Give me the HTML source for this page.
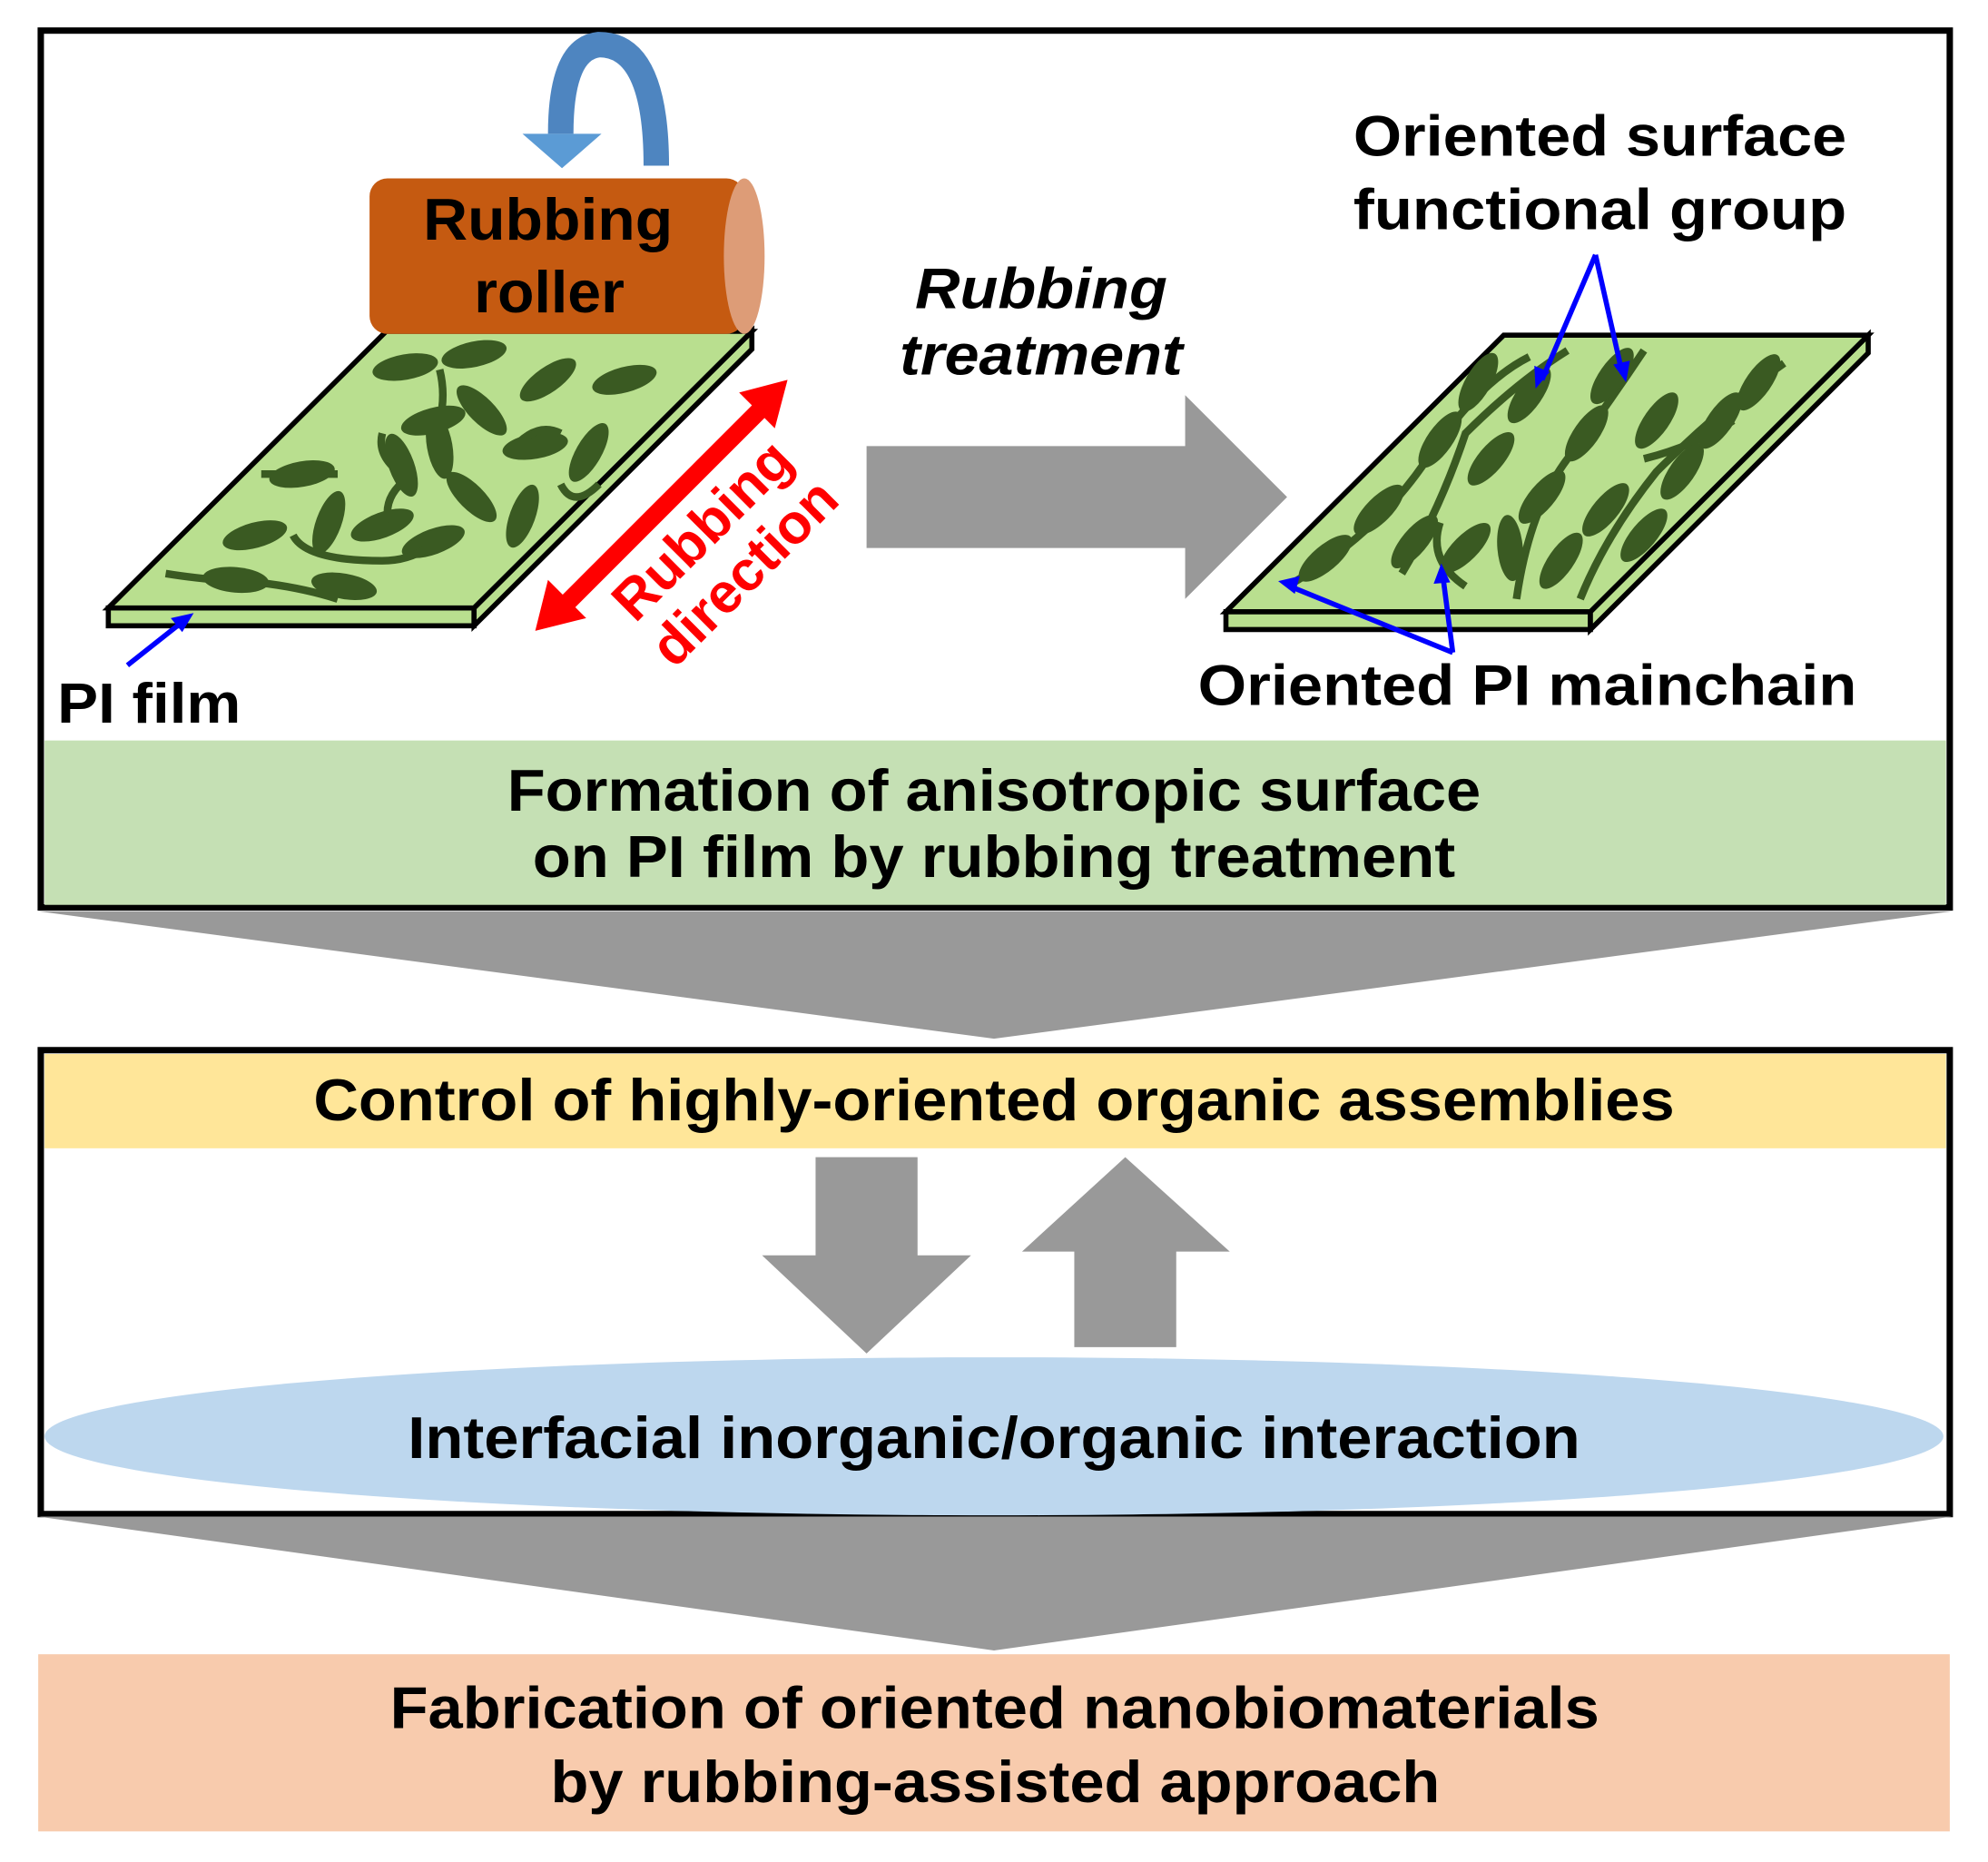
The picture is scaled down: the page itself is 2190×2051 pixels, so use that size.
<!DOCTYPE html>
<html><head><style>html,body{margin:0;padding:0;background:#fff}svg{display:block}
text{font-family:"Liberation Sans",Arial,sans-serif;font-weight:bold}</style></head>
<body>
<svg width="2190" height="2051" viewBox="0 0 1560 1461" preserveAspectRatio="none" xmlns="http://www.w3.org/2000/svg">
<defs>
<g id="m"><ellipse cx="0" cy="0" rx="26" ry="10" fill="#3a5a22"/></g>
</defs>
<!-- top box -->
<rect x="32" y="24" width="1498" height="688" fill="#fff" stroke="#000" stroke-width="5"/>
<rect x="35" y="581" width="1492" height="129" fill="#c5e0b4"/>
<text x="398" y="636" font-size="46" textLength="764" lengthAdjust="spacingAndGlyphs">Formation of anisotropic surface</text>
<text x="418" y="688" font-size="46" textLength="724" lengthAdjust="spacingAndGlyphs">on PI film by rubbing treatment</text>
<polygon points="30,715 1532,715 780,815" fill="#999"/>
<!-- middle box -->
<rect x="32" y="824" width="1498" height="364" fill="#fff" stroke="#000" stroke-width="5"/>
<rect x="35" y="827" width="1492" height="74" fill="#ffe699"/>
<text x="246" y="879" font-size="46" textLength="1068" lengthAdjust="spacingAndGlyphs">Control of highly-oriented organic assemblies</text>
<ellipse cx="780" cy="1127" rx="745" ry="62" fill="#bdd7ee"/>
<polygon points="640,908 720,908 720,985 762,985 680,1062 598,985 640,985" fill="#999"/>
<polygon points="843,1057 923,1057 923,982 965,982 883,908 802,982 843,982" fill="#999"/>
<text x="320" y="1144" font-size="46" textLength="920" lengthAdjust="spacingAndGlyphs">Interfacial inorganic/organic interaction</text>
<polygon points="30,1190 1532,1190 780,1295" fill="#999"/>
<rect x="30" y="1298" width="1500" height="139" fill="#f8cbad"/>
<text x="306" y="1356" font-size="46" textLength="949" lengthAdjust="spacingAndGlyphs">Fabrication of oriented nanobiomaterials</text>
<text x="432" y="1414" font-size="46" textLength="698" lengthAdjust="spacingAndGlyphs">by rubbing-assisted approach</text>

<!-- left film -->
<polygon points="85,477 372,477 372,491 85,491" fill="#b9df8f" stroke="#000" stroke-width="4"/>
<polygon points="372,477 590,260 590,274 372,491" fill="#b9df8f" stroke="#000" stroke-width="4"/>
<polygon points="85,477 372,477 590,260 303,260" fill="#b9df8f" stroke="#000" stroke-width="4"/>
<g>
<use href="#m" transform="translate(318,288) rotate(-10)"/>
<use href="#m" transform="translate(372,278) rotate(-12)"/>
<use href="#m" transform="translate(430,298) rotate(-35)"/>
<use href="#m" transform="translate(490,298) rotate(-15)"/>
<use href="#m" transform="translate(340,330) rotate(-15)"/>
<use href="#m" transform="translate(345,350) rotate(80)"/>
<use href="#m" transform="translate(378,322) rotate(45)"/>
<use href="#m" transform="translate(420,350) rotate(-10)"/>
<use href="#m" transform="translate(462,355) rotate(-60)"/>
<use href="#m" transform="translate(237,372) rotate(-10)"/>
<use href="#m" transform="translate(315,365) rotate(70)"/>
<use href="#m" transform="translate(370,390) rotate(45)"/>
<use href="#m" transform="translate(410,405) rotate(-70)"/>
<use href="#m" transform="translate(200,420) rotate(-15)"/>
<use href="#m" transform="translate(258,410) rotate(-70)"/>
<use href="#m" transform="translate(300,412) rotate(-20)"/>
<use href="#m" transform="translate(340,425) rotate(-20)"/>
<use href="#m" transform="translate(185,455) rotate(5)"/>
<use href="#m" transform="translate(270,460) rotate(10)"/>
</g>
<g fill="none" stroke="#3a5a22" stroke-width="6">
<path d="M345,290 Q350,310 345,330"/><path d="M300,340 Q295,360 320,375 Q300,390 305,410"/>
<path d="M400,355 Q420,330 440,340"/><path d="M205,372 L265,372"/><path d="M130,450 Q160,455 210,458 Q240,462 265,470"/>
<path d="M230,420 Q240,440 300,440 Q320,440 335,430"/><path d="M440,380 Q450,400 470,380"/>
</g>
<!-- roller -->
<rect x="290" y="140" width="294" height="122" rx="14" fill="#c55a11"/>
<ellipse cx="584" cy="201" rx="16" ry="61" fill="#dd9c77"/>
<text x="332" y="188" font-size="46" textLength="196" lengthAdjust="spacingAndGlyphs">Rubbing</text>
<text x="372" y="245" font-size="46" textLength="118" lengthAdjust="spacingAndGlyphs">roller</text>
<path d="M515,130 Q515,35 470,35 Q440,38 440,105" fill="none" stroke="#4e85c0" stroke-width="20"/>
<polygon points="410,105 472,105 441,132" fill="#5b9bd5"/>
<!-- red arrow -->
<line x1="440" y1="478" x2="600" y2="318" stroke="#f00" stroke-width="14"/>
<polygon points="420,495 430,455 460,485" fill="#f00"/>
<polygon points="618,298 580,308 608,336" fill="#f00"/>
<g transform="translate(565,430) rotate(-45)">
<text x="0" y="-5" font-size="44" text-anchor="middle" fill="#f00">Rubbing</text>
<text x="0" y="42" font-size="44" text-anchor="middle" fill="#f00">direction</text>
</g>
<text x="45" y="567" font-size="44" textLength="144" lengthAdjust="spacingAndGlyphs">PI film</text>
<line x1="100" y1="522" x2="143" y2="488" stroke="#00f" stroke-width="4"/>
<polygon points="152,481 134,485 143,496" fill="#00f"/>
<!-- big arrow -->
<polygon points="680,350 930,350 930,310 1010,390 930,470 930,430 680,430" fill="#999"/>
<text x="718" y="242" font-size="45" font-style="italic" textLength="198" lengthAdjust="spacingAndGlyphs">Rubbing</text>
<text x="706" y="294" font-size="45" font-style="italic" textLength="222" lengthAdjust="spacingAndGlyphs">treatment</text>
<!-- right film -->
<polygon points="962,480 1248,480 1248,494 962,494" fill="#b9df8f" stroke="#000" stroke-width="4"/>
<polygon points="1248,480 1466,263 1466,277 1248,494" fill="#b9df8f" stroke="#000" stroke-width="4"/>
<polygon points="962,480 1248,480 1466,263 1180,263" fill="#b9df8f" stroke="#000" stroke-width="4"/>
<g fill="none" stroke="#3a5a22" stroke-width="6">
<path d="M1010,460 Q1080,420 1120,360 Q1160,300 1200,280"/>
<path d="M1100,450 Q1130,400 1150,340 Q1190,300 1230,275"/>
<path d="M1190,470 Q1200,400 1230,360 Q1260,320 1290,275"/>
<path d="M1240,470 Q1260,420 1300,370 Q1350,320 1400,285"/>
<path d="M1150,460 Q1120,440 1130,410"/><path d="M1290,360 Q1330,350 1360,330"/>
</g>
<g>
<use href="#m" transform="translate(1040,438) rotate(-40)"/>
<use href="#m" transform="translate(1082,400) rotate(-45)"/>
<use href="#m" transform="translate(1110,425) rotate(-50)"/>
<use href="#m" transform="translate(1130,345) rotate(-55)"/>
<use href="#m" transform="translate(1160,300) rotate(-60)"/>
<use href="#m" transform="translate(1150,430) rotate(-45)"/>
<use href="#m" transform="translate(1170,360) rotate(-50)"/>
<use href="#m" transform="translate(1200,310) rotate(-55)"/>
<use href="#m" transform="translate(1185,430) rotate(85)"/>
<use href="#m" transform="translate(1210,390) rotate(-50)"/>
<use href="#m" transform="translate(1225,440) rotate(-55)"/>
<use href="#m" transform="translate(1245,340) rotate(-55)"/>
<use href="#m" transform="translate(1265,295) rotate(-55)"/>
<use href="#m" transform="translate(1260,400) rotate(-50)"/>
<use href="#m" transform="translate(1300,330) rotate(-55)"/>
<use href="#m" transform="translate(1290,420) rotate(-50)"/>
<use href="#m" transform="translate(1320,370) rotate(-55)"/>
<use href="#m" transform="translate(1350,330) rotate(-55)"/>
<use href="#m" transform="translate(1380,300) rotate(-55)"/>
</g>
<text x="1062" y="122" font-size="45" textLength="387" lengthAdjust="spacingAndGlyphs">Oriented surface</text>
<text x="1062" y="180" font-size="45" textLength="387" lengthAdjust="spacingAndGlyphs">functional group</text>
<g stroke="#00f" stroke-width="4">
<line x1="1252" y1="200" x2="1210" y2="298"/><line x1="1252" y1="200" x2="1273" y2="293"/>
<line x1="1140" y1="512" x2="1012" y2="460"/><line x1="1140" y1="512" x2="1132" y2="450"/>
</g>
<g fill="#00f">
<polygon points="1205,305 1204,287 1216,292"/><polygon points="1276,300 1266,286 1279,283"/>
<polygon points="1003,456 1020,452 1016,466"/><polygon points="1131,442 1125,458 1138,457"/>
</g>
<text x="940" y="553" font-size="45" textLength="517" lengthAdjust="spacingAndGlyphs">Oriented PI mainchain</text>
</svg>
</body></html>
